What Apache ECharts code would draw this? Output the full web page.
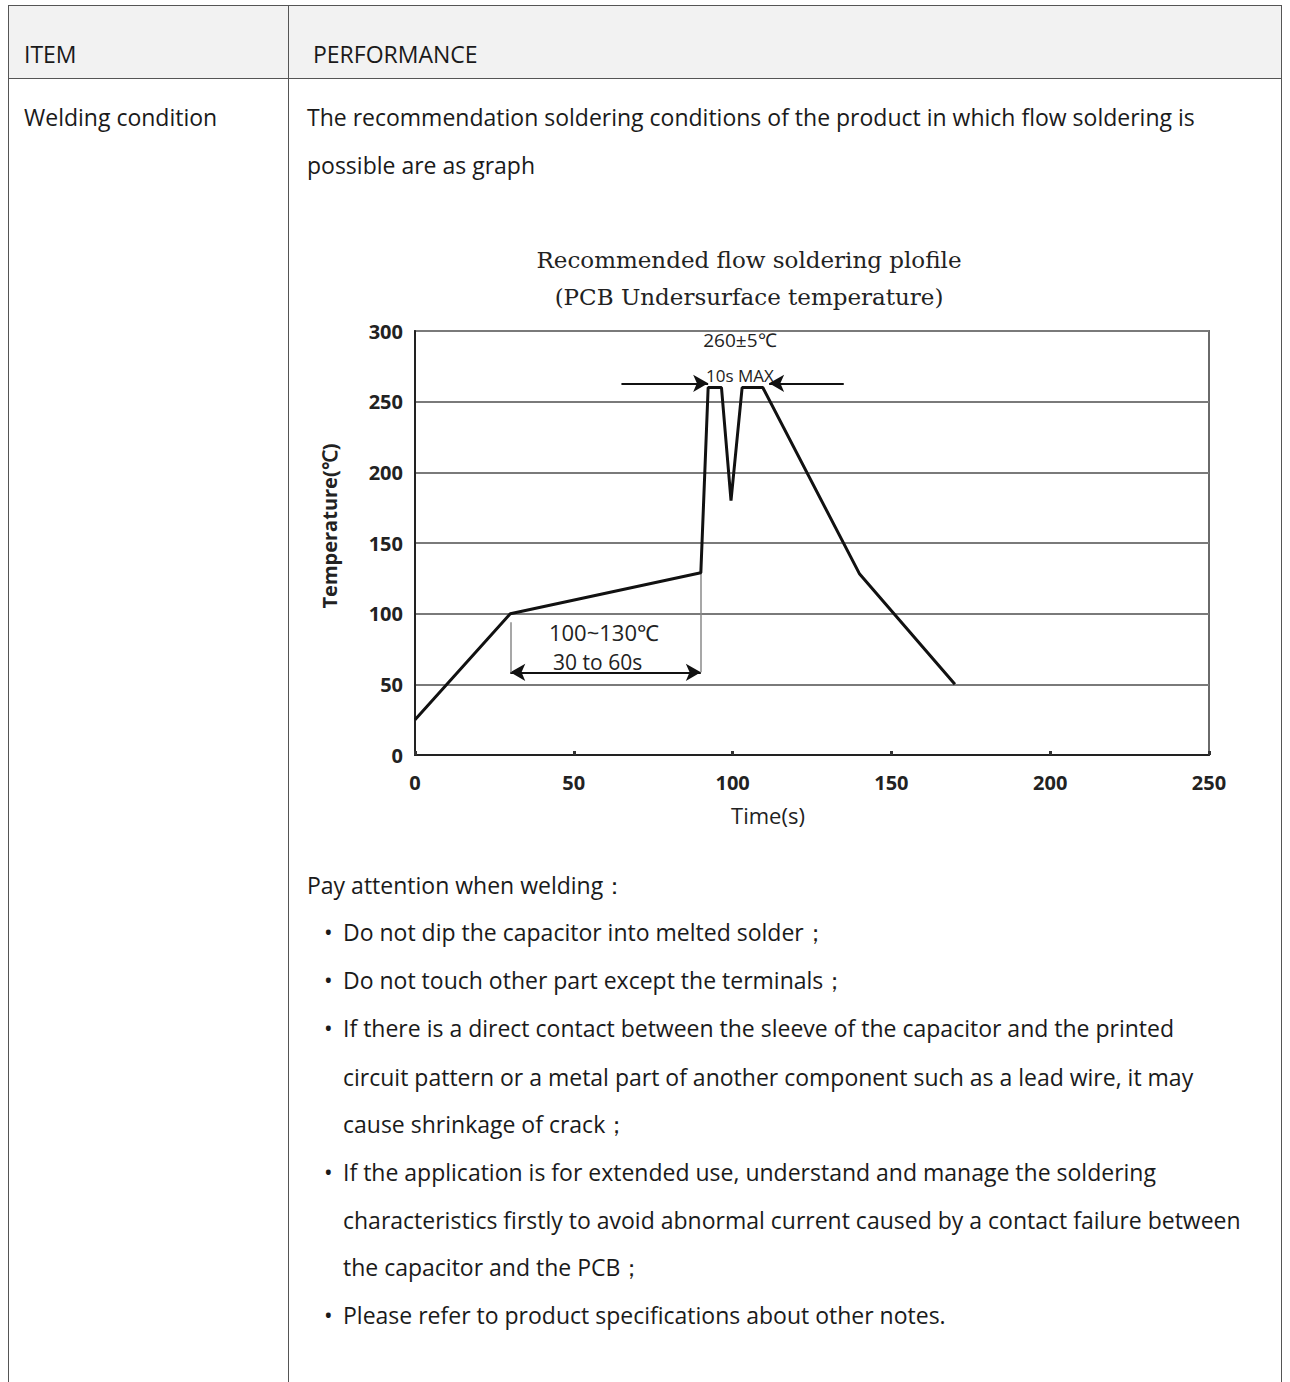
<!DOCTYPE html>
<html>
<head>
<meta charset="utf-8">
<script src="https://cdn.jsdelivr.net/npm/echarts@6/dist/echarts.min.js"></script>
<style>
  html, body { margin:0; padding:0; background:#fff; }
  body { width:1290px; height:1382px; position:relative; overflow:hidden; font-family:"Open Sans","Noto Sans",sans-serif; color:#1a1a1a; }
  .frame { position:absolute; left:8px; top:5px; width:1274px; height:1420px; border:1.5px solid #555; box-sizing:border-box; }
  .head { position:absolute; left:8px; top:5px; width:1274px; height:74px; background:#f2f2f2; border:1.5px solid #555; box-sizing:border-box; }
  .vdiv { position:absolute; left:288px; top:5px; width:0; height:1400px; border-left:1.5px solid #555; }
  .ln { position:absolute; font-size:23px; line-height:30px; white-space:nowrap; }
  #chart { position:absolute; left:0; top:0; width:1290px; height:1382px; }
</style>
</head>
<body>
<div class="head"></div>
<div class="frame"></div>
<div class="vdiv"></div>

<div class="ln" style="left:24px;top:39px;">ITEM</div>
<div class="ln" style="left:313px;top:39px;">PERFORMANCE</div>
<div class="ln" style="left:24px;top:102px;">Welding condition</div>
<div class="ln" style="left:307px;top:102px;">The recommendation soldering conditions of the product in which flow soldering is</div>
<div class="ln" style="left:307px;top:150px;">possible are as graph</div>

<div class="ln" style="left:307px;top:870px;">Pay attention when welding：</div>
<div class="ln" style="left:324px;top:917px;">•</div>
<div class="ln" style="left:343px;top:917px;">Do not dip the capacitor into melted solder；</div>
<div class="ln" style="left:324px;top:965px;">•</div>
<div class="ln" style="left:343px;top:965px;">Do not touch other part except the terminals；</div>
<div class="ln" style="left:324px;top:1013px;">•</div>
<div class="ln" style="left:343px;top:1013px;">If there is a direct contact between the sleeve of the capacitor and the printed</div>
<div class="ln" style="left:343px;top:1062px;">circuit pattern or a metal part of another component such as a lead wire, it may</div>
<div class="ln" style="left:343px;top:1109px;">cause shrinkage of crack；</div>
<div class="ln" style="left:324px;top:1157px;">•</div>
<div class="ln" style="left:343px;top:1157px;">If the application is for extended use, understand and manage the soldering</div>
<div class="ln" style="left:343px;top:1205px;">characteristics firstly to avoid abnormal current caused by a contact failure between</div>
<div class="ln" style="left:343px;top:1252px;">the capacitor and the PCB；</div>
<div class="ln" style="left:324px;top:1300px;">•</div>
<div class="ln" style="left:343px;top:1300px;">Please refer to product specifications about other notes.</div>

<div id="chart"></div>

<script>
// ---- data ----
var timeValues = [0, 30, 90, 92.3, 96.5, 99.5, 103, 109.5, 140, 170];
var tempValues = [25, 100, 129, 260, 260, 180, 260, 260, 128, 50];
var xTickValues = [0, 50, 100, 150, 200, 250];
var yTickValues = [0, 50, 100, 150, 200, 250, 300];
var peakArrowLeft = [[65, 263], [92.3, 263]];
var peakArrowRight = [[135, 263], [111.5, 263]];
var preheatArrow = [[30, 58.5], [90, 58.5]];
var guideLines = [[[30, 94], [30, 58.5]], [[90, 129], [90, 58.5]]];
var annotationLabels = ['260±5℃', '10s MAX', '100~130℃', '30 to 60s'];
var annotationCoords = [[102.3, 293.5], [102.3, 268.5], [59.5, 87], [57.5, 65.5]];
var titleLines = ['Recommended flow soldering plofile', '(PCB Undersurface temperature)'];
var xName = 'Time(s)';
var yName = 'Temperature(℃)';

var profile = timeValues.map(function (t, i) { return [t, tempValues[i]]; });

var chart = echarts.init(document.getElementById('chart'), null, { renderer: 'svg' });

var annoFonts = [19, 17, 22, 21];
var markPts = annotationLabels.map(function (txt, i) {
  return {
    name: txt, coord: annotationCoords[i], symbolSize: 0,
    label: { show: true, formatter: txt, color: '#222', fontSize: annoFonts[i],
             fontFamily: 'Open Sans', position: 'inside' }
  };
});

var option = {
  animation: false,
  backgroundColor: 'transparent',
  grid: { left: 415, top: 331, width: 794, height: 424, show: true,
          borderColor: '#6a6a6a', borderWidth: 2, backgroundColor: 'transparent' },
  xAxis: {
    type: 'value', min: 0, max: 250, interval: 50,
    axisLine: { show: true, lineStyle: { color: '#222', width: 2 } },
    axisTick: { show: true, inside: true, length: 4, lineStyle: { color: '#333', width: 3 } },
    splitLine: { show: false },
    axisLabel: { color: '#222', fontSize: 20, fontWeight: 'bold', fontFamily: 'Open Sans', margin: 17,
                 customValues: xTickValues }
  },
  yAxis: {
    type: 'value', min: 0, max: 300, interval: 50,
    axisLine: { show: true, lineStyle: { color: '#222', width: 2 } },
    axisTick: { show: false },
    splitLine: { show: true, lineStyle: { color: '#7a7a7a', width: 2 } },
    axisLabel: { color: '#222', fontSize: 20, fontWeight: 'bold', fontFamily: 'Open Sans', margin: 12 }
  },
  graphic: [
    { type: 'text', x: 749, y: 260, style: { text: titleLines[0], align: 'center', verticalAlign: 'middle',
      fontFamily: 'DejaVu Serif', fontSize: 23, fill: '#222' } },
    { type: 'text', x: 749, y: 297, style: { text: titleLines[1], align: 'center', verticalAlign: 'middle',
      fontFamily: 'DejaVu Serif', fontSize: 23, fill: '#222' } },
    { type: 'text', x: 768, y: 815, style: { text: xName, align: 'center', verticalAlign: 'middle',
      fontFamily: 'Open Sans', fontSize: 22, fill: '#222' } },
    { type: 'text', x: 329, y: 526, rotation: Math.PI / 2, style: { text: yName, align: 'center', verticalAlign: 'middle',
      fontFamily: 'Open Sans', fontWeight: 'bold', fontSize: 20, fill: '#222' } }
  ],
  series: [
    {
      type: 'line', data: profile, symbol: 'none', silent: true,
      lineStyle: { color: '#111', width: 3 }, z: 5,
      markLine: {
        silent: true, symbol: ['none', 'arrow'], symbolSize: [13, 15],
        label: { show: false },
        lineStyle: { color: '#111', width: 2, type: 'solid' },
        data: [
          [{ coord: peakArrowLeft[0] }, { coord: peakArrowLeft[1] }],
          [{ coord: peakArrowRight[0] }, { coord: peakArrowRight[1] }],
          [{ coord: preheatArrow[0], symbol: 'arrow' }, { coord: preheatArrow[1], symbol: 'arrow' }],
          [{ coord: guideLines[0][0], symbol: 'none', lineStyle: { color: '#8a8a8a', width: 1.5 } },
           { coord: guideLines[0][1], symbol: 'none' }],
          [{ coord: guideLines[1][0], symbol: 'none', lineStyle: { color: '#8a8a8a', width: 1.5 } },
           { coord: guideLines[1][1], symbol: 'none' }]
        ]
      },
      markPoint: { silent: true, symbol: 'circle', data: markPts }
    }
  ]
};
chart.setOption(option);
</script>
</body>
</html>
